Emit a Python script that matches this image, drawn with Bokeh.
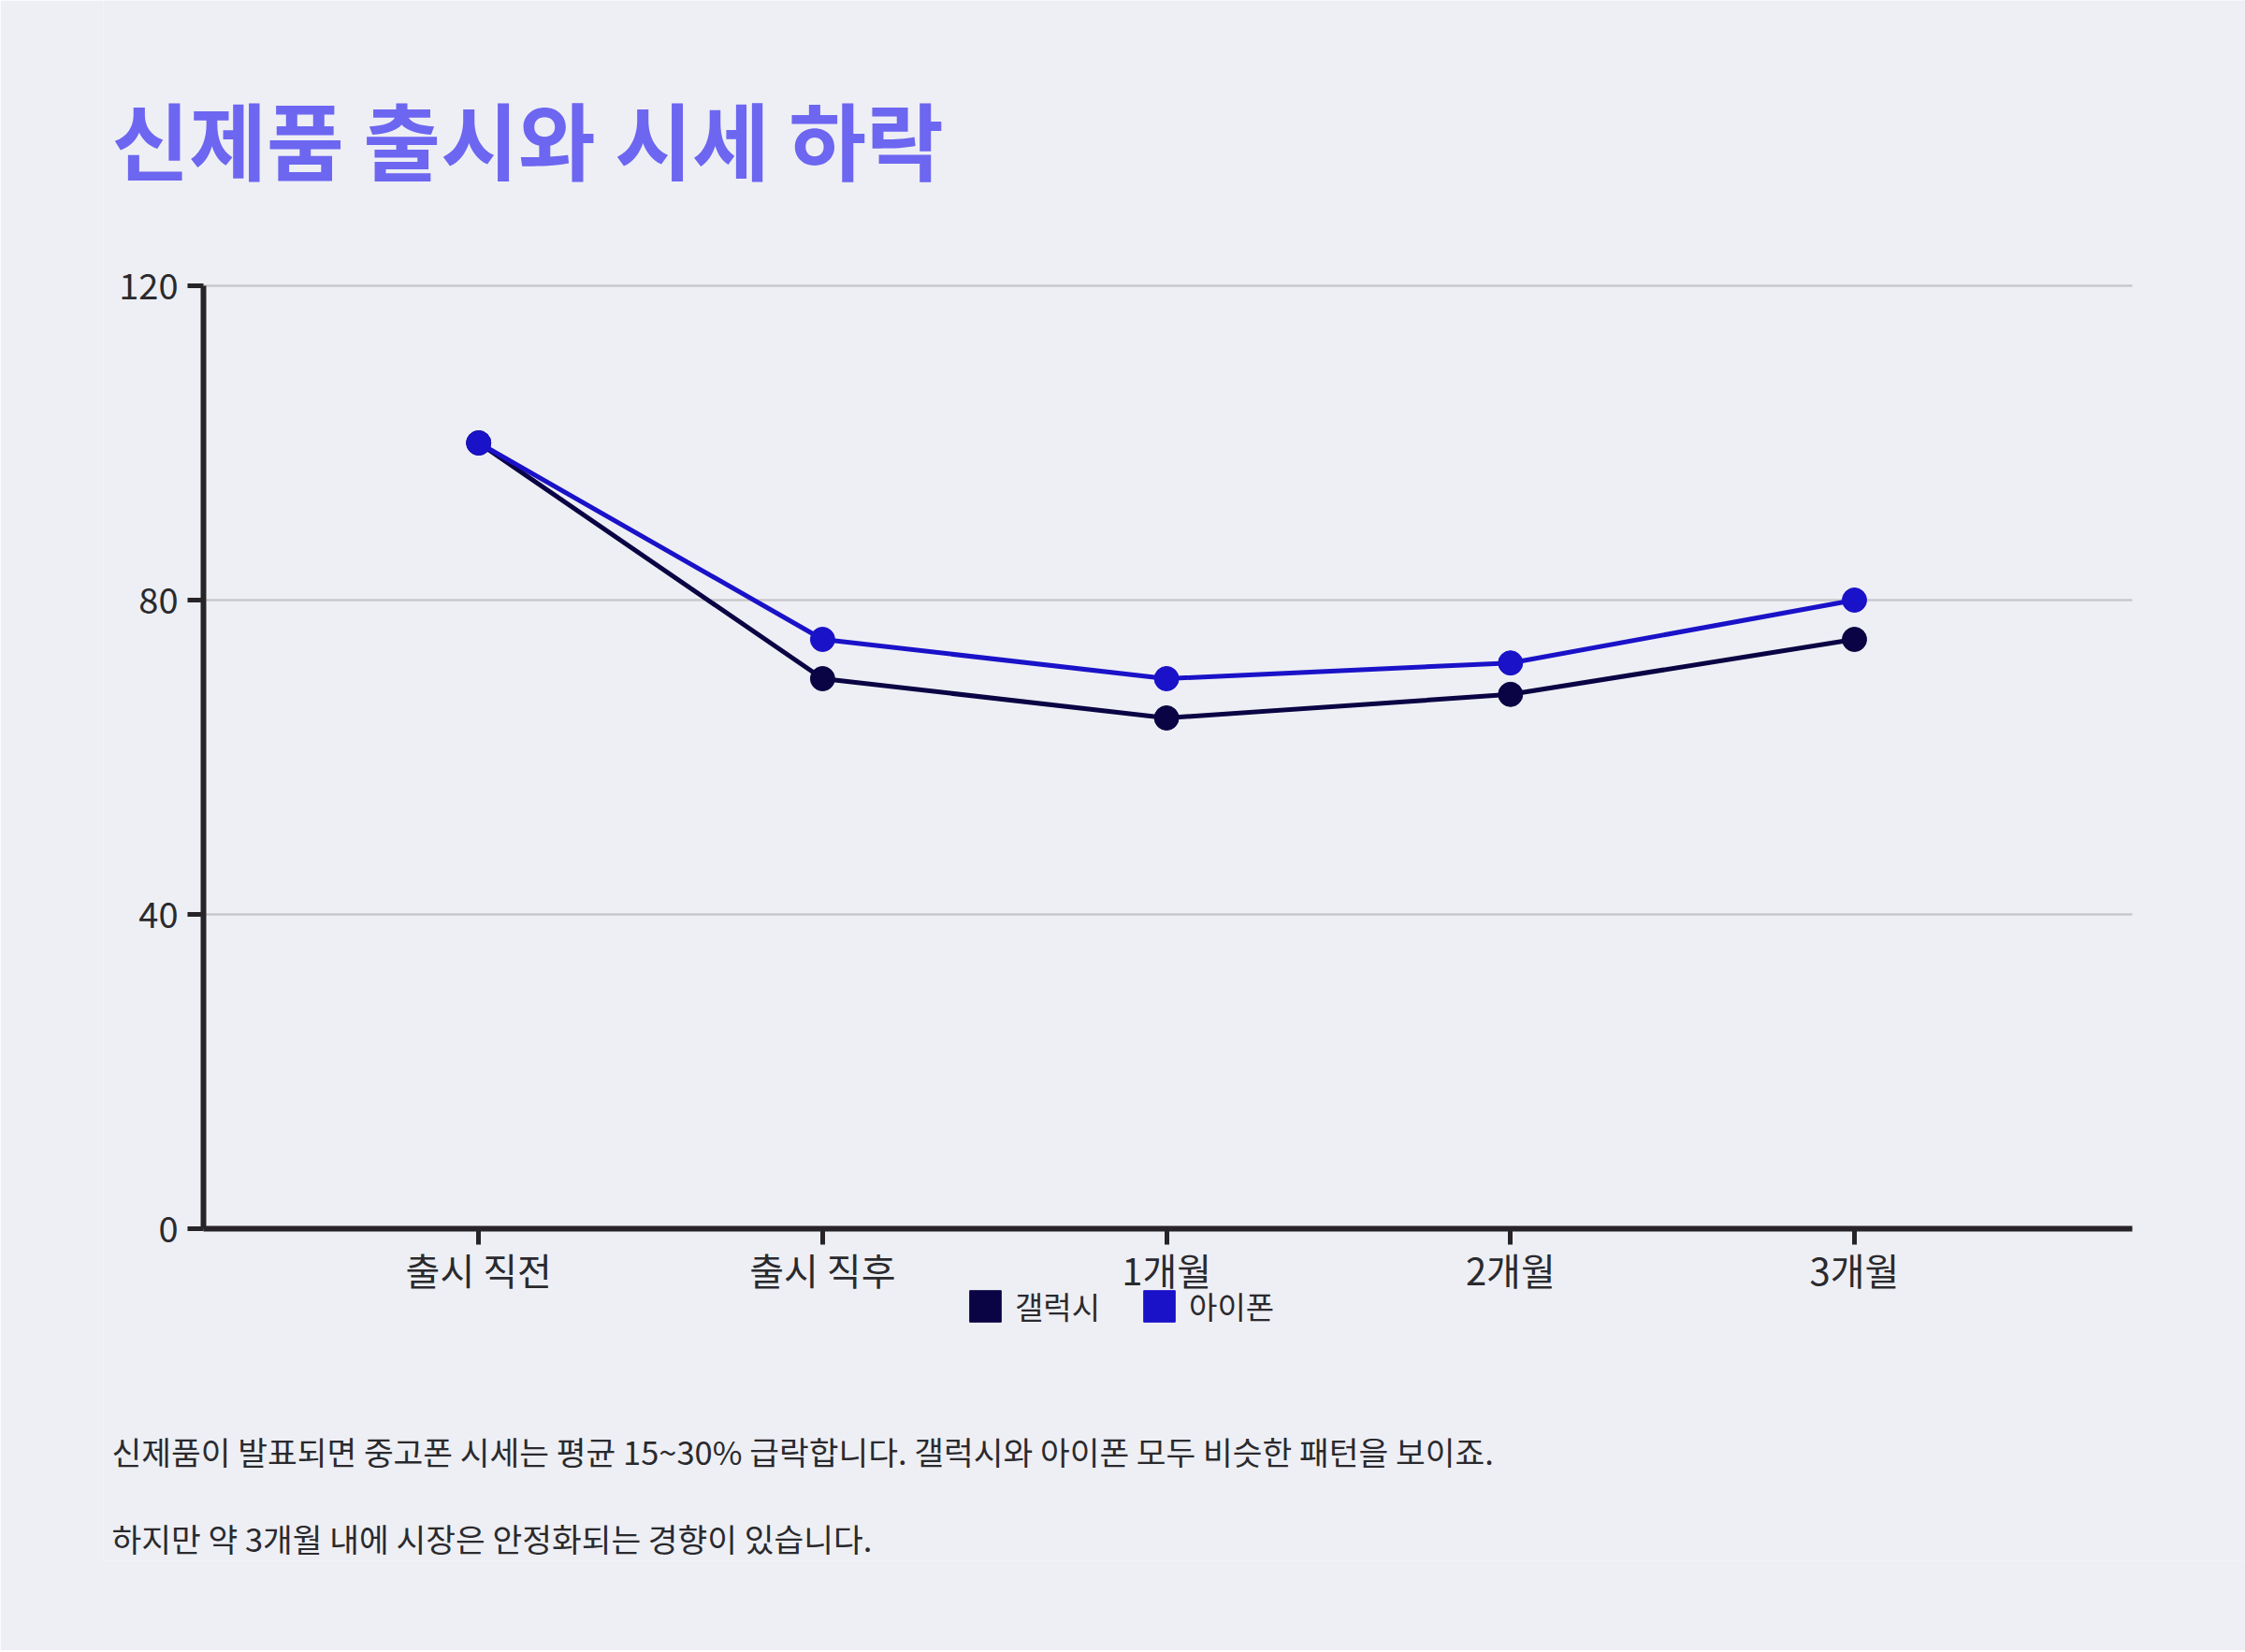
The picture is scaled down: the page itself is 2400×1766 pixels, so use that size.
from bokeh.plotting import figure
from bokeh.models import Range1d, FixedTicker, Legend, LegendItem, Label
from bokeh.embed import file_html
from bokeh.resources import INLINE

# ---- data ----
categories = ["출시 직전", "출시 직후", "1개월", "2개월", "3개월"]
galaxy = [100, 70, 65, 68, 75]
iphone = [100, 75, 70, 72, 80]
series_names = ["갤럭시", "아이폰"]
y_ticks = [0, 40, 80, 120]
title_text = "신제품 출시와 시세 하락"
notes = [
    "신제품이 발표되면 중고폰 시세는 평균 15~30% 급락합니다. 갤럭시와 아이폰 모두 비슷한 패턴을 보이죠.",
    "하지만 약 3개월 내에 시장은 안정화되는 경향이 있습니다.",
]

# ---- style ----
BG = "#eeeff4"
AXIS = "#272427"
TEXT = "#2a2a2e"
C_GAL = "#0a0444"
C_IPH = "#1a12c8"
C_TITLE = "#6c66f1"
FONT = "Noto Sans CJK KR"

W, H = 2400, 1764
BL, BB = 110, 96                 # frame covers the page except these strips
X_LO, X_HI = -0.8001, 4.8077     # extent of the drawn plot area (data units)

xs = list(range(len(categories)))

p = figure(
    width=W, height=H, title=None,
    output_backend="svg", toolbar_location=None,
    x_range=Range1d(-1.0911, 5.1368), y_range=Range1d(-42.26, 156.31),
    min_border=0, min_border_left=BL, min_border_bottom=BB,
    min_border_top=0, min_border_right=0,
    background_fill_color=BG, border_fill_color=BG,
)
p.outline_line_color = None
p.xgrid.visible = False
p.ygrid.visible = False

# axes drawn at the plot-area edges
p.xaxis.ticker = FixedTicker(ticks=xs)
p.xaxis.major_label_overrides = {i: c for i, c in zip(xs, categories)}
p.xaxis.fixed_location = 0
p.xaxis.bounds = (X_LO, X_HI)
p.yaxis.ticker = FixedTicker(ticks=y_ticks)
p.yaxis.fixed_location = X_LO
p.yaxis.bounds = (0, 120)
for ax in (p.xaxis[0], p.yaxis[0]):
    ax.axis_line_color = AXIS
    ax.axis_line_width = 6
    ax.major_tick_line_color = AXIS
    ax.major_tick_line_width = 5
    ax.major_tick_out = 17
    ax.major_tick_in = 0
    ax.minor_tick_line_color = None
    ax.major_label_text_color = TEXT
    ax.major_label_text_font = FONT
p.xaxis.major_label_text_font_size = "40px"
p.xaxis.major_label_standoff = -3
p.yaxis.major_label_text_font_size = "38px"
p.yaxis.major_label_standoff = 10

# horizontal grid lines, limited to the plot area
p.segment(x0=X_LO, x1=X_HI, y0=y_ticks, y1=y_ticks, line_color="#c8c8cc", line_width=2.5)

# series
p.line(xs, galaxy, line_color=C_GAL, line_width=5)
p.scatter(xs, galaxy, size=26, fill_color=C_GAL, line_color=C_GAL)
p.line(xs, iphone, line_color=C_IPH, line_width=5)
p.scatter(xs, iphone, size=26, fill_color=C_IPH, line_color=C_IPH)

# square legend swatches (hidden renderers used only for the legend)
sw_gal = p.vbar(x=xs, top=galaxy, width=0.3, fill_color=C_GAL, line_color=C_GAL, visible=False)
sw_iph = p.vbar(x=xs, top=iphone, width=0.3, fill_color=C_IPH, line_color=C_IPH, visible=False)
legend = Legend(
    items=[LegendItem(label=series_names[0], renderers=[sw_gal]),
           LegendItem(label=series_names[1], renderers=[sw_iph])],
    orientation="horizontal", location=(922, 248),
    glyph_width=42, glyph_height=42, label_standoff=11, spacing=42,
    padding=0, margin=0,
    border_line_color=None, background_fill_alpha=0,
    label_text_font=FONT, label_text_font_size="33px", label_text_color=TEXT,
)
p.add_layout(legend)

# title
p.add_layout(Label(
    x=9, y=1522, x_units="screen", y_units="screen", text=title_text,
    text_font=FONT, text_font_size="90px", text_font_style="bold",
    text_color=C_TITLE, text_baseline="middle", text_align="left",
))

# notes
for txt, yy in zip(notes, [118, 25]):
    p.add_layout(Label(
        x=9, y=yy, x_units="screen", y_units="screen", text=txt,
        text_font=FONT, text_font_size="34.5px",
        text_color=TEXT, text_baseline="middle", text_align="left",
    ))

open("out.html", "w").write(file_html(p, INLINE))
